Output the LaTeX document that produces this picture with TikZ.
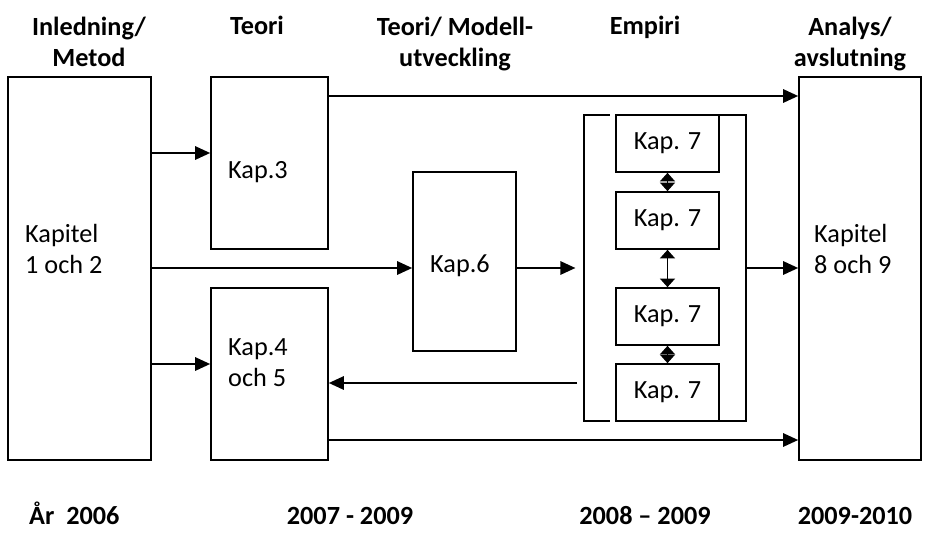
\documentclass[tikz,border=0pt]{standalone}
\usepackage{fontspec}
\setmainfont{Carlito}
\usetikzlibrary{arrows.meta}
\tikzset{
  box/.style={draw, line width=1.4pt, inner sep=0pt},
  arr/.style={line width=1.6pt, -{Triangle[length=0.45cm,width=0.4cm]}},
  sarr/.style={line width=1.6pt, -{Triangle[length=0.26cm,width=0.45cm]}},
  txt/.style={inner sep=0pt, align=left, font=\fontsize{22.4}{26.5}\selectfont},
  hd/.style={inner sep=0pt, align=center, font=\fontsize{22.4}{26.5}\selectfont\bfseries}
}
\begin{document}
\begin{tikzpicture}[x=0.03cm,y=-0.03cm]
\useasboundingbox (0,0) rectangle (929,534);

% rubriker
\node[hd] (h1) at (89,41.5) {Inledning/\\Metod};
\node[hd,anchor=base] (h2) at (257,35) {Teori};
\node[hd] (h3) at (455,44) {Teori/ Modell-\\utveckling};
\node[hd,anchor=base] (h4) at (645,35) {Empiri};
\node[hd] (h5) at (850,44) {Analys/\\avslutning};

% rutor
\node[box,minimum width=4.29cm,minimum height=11.49cm] (kap12) at (79.5,268.5) {};
\node[box,minimum width=3.51cm,minimum height=5.16cm] (kap3) at (269.5,163) {};
\node[box,minimum width=3.51cm,minimum height=5.16cm] (kap45) at (269.5,374) {};
\node[box,minimum width=3.09cm,minimum height=5.37cm] (kap6) at (464.5,261.5) {};
\node[box,minimum width=3.66cm,minimum height=11.49cm] (kap89) at (860,268.5) {};

\node[txt,anchor=west] (t12) at (25,249) {Kapitel\\1 och 2};
\node[txt,anchor=base west] (t3) at (228,178) {Kap.3};
\node[txt,anchor=west] (t45) at (228,363) {Kap.4\\och 5};
\node[txt,anchor=base west] (t6) at (430,272) {Kap.6};
\node[txt,anchor=west] (t89) at (814,249) {Kapitel\\8 och 9};

% empiri
\node[inner sep=0pt,minimum width=4.86cm,minimum height=9.18cm] (emp) at (665,268) {};
\draw[line width=1.4pt] ([xshift=0.78cm]emp.north west) -- (emp.north west) -- (emp.south west) -- ([xshift=0.78cm]emp.south west);
\draw[line width=1.4pt] ([xshift=-0.84cm]emp.north east) -- (emp.north east) -- (emp.south east) -- ([xshift=-0.84cm]emp.south east);
\node[box,txt,align=center,minimum width=3.09cm,minimum height=1.71cm] (k71) at (667.5,143.5) {Kap. 7};
\node[box,txt,align=center,minimum width=3.09cm,minimum height=1.71cm] (k72) at (667.5,220.5) {Kap. 7};
\node[box,txt,align=center,minimum width=3.09cm,minimum height=1.71cm] (k73) at (667.5,316.5) {Kap. 7};
\node[box,txt,align=center,minimum width=3.09cm,minimum height=1.71cm] (k74) at (667.5,392.5) {Kap. 7};
\draw[sarr] (k71) -- (k72);
\draw[sarr] (k72) -- (k71);
\draw[sarr] (k72) -- (k73);
\draw[sarr] (k73) -- (k72);
\draw[sarr] (k73) -- (k74);
\draw[sarr] (k74) -- (k73);

% pilar
\coordinate (rA) at (0,96);
\coordinate (rB) at (0,153);
\coordinate (rC) at (0,268);
\coordinate (rD) at (0,364);
\coordinate (rE) at (0,383);
\coordinate (rF) at (0,440);
\draw[arr] (kap3.east |- rA) -- (kap89.west |- rA);
\draw[arr] (kap12.east |- rB) -- (kap3.west |- rB);
\draw[arr] (kap12.east |- rC) -- (kap6.west |- rC);
\draw[arr,shorten >=0.25cm] (kap6.east |- rC) -- (emp.west |- rC);
\draw[arr] (emp.east |- rC) -- (kap89.west |- rC);
\draw[arr] (kap12.east |- rD) -- (kap45.west |- rD);
\draw[arr,shorten <=0.2cm] (emp.west |- rE) -- (kap45.east |- rE);
\draw[arr] (kap45.east |- rF) -- (kap89.west |- rF);

% år
\node[hd,anchor=base west] (y1) at (29,524) {År~~2006};
\node[hd,anchor=base] (y2) at (350,524) {2007 - 2009};
\node[hd,anchor=base] (y3) at (645,524) {2008 – 2009};
\node[hd,anchor=base] (y4) at (855,524) {2009-2010};
\end{tikzpicture}
\end{document}
